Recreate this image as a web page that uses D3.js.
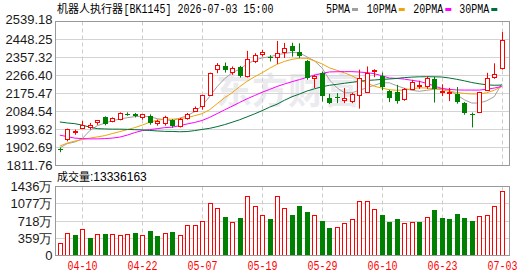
<!DOCTYPE html>
<html>
<head>
<meta charset="utf-8">
<script src="https://cdn.jsdelivr.net/npm/d3@7"></script>
<style>
  body { margin: 0; background: #fff; }
  svg { display: block; }
</style>
</head>
<body>
<div id="chart"></div>
<script>
// ---- data ----
const dates = ["04-07","04-08","04-09","04-10","04-13","04-14","04-15","04-16","04-17","04-20",
  "04-21","04-22","04-23","04-24","04-27","04-28","04-29","04-30","05-06","05-07",
  "05-08","05-11","05-12","05-13","05-14","05-15","05-18","05-19","05-20","05-21",
  "05-22","05-25","05-26","05-27","05-28","05-29","06-01","06-02","06-03","06-04",
  "06-05","06-08","06-09","06-10","06-11","06-12","06-15","06-16","06-17","06-18",
  "06-22","06-23","06-24","06-25","06-26","06-29","06-30","07-01","07-02","07-03"];

const opens = [1895,1939,1981,1999,2001,2031,2055,2037,2043,2074,
  2072,2055,2063,2022,2022,2040,2006,2047,2085,2107,
  2169,2295,2315,2281,2307,2261,2334,2373,2359,2359,
  2384,2416,2387,2340,2250,2278,2153,2158,2144,2132,
  2169,2183,2285,2265,2186,2181,2150,2198,2215,2208,
  2248,2181,2179,2173,2127,2070,2077,2193,2256,2301];
const highs = [1902,1998,1993,2037,2027,2040,2060,2055,2080,2080,
  2077,2072,2070,2043,2063,2046,2052,2077,2110,2169,
  2281,2329,2332,2312,2315,2391,2379,2396,2369,2441,
  2431,2432,2429,2345,2270,2286,2174,2178,2203,2178,
  2296,2312,2298,2281,2194,2219,2203,2245,2240,2262,
  2261,2222,2204,2208,2132,2079,2184,2280,2328,2486];
const lows = [1879,1934,1967,1996,1993,2017,2015,2030,2040,2063,
  2055,2043,2018,2013,2013,2003,2004,2043,2085,2094,
  2166,2278,2281,2270,2256,2256,2329,2362,2337,2325,
  2355,2362,2354,2245,2203,2135,2122,2127,2127,2127,
  2099,2178,2258,2191,2132,2124,2139,2193,2199,2199,
  2130,2162,2137,2124,2068,2004,2077,2188,2250,2296];
const closes = [1889,1992,1984,2013,2013,2039,2018,2050,2072,2071,
  2062,2069,2027,2032,2052,2008,2043,2067,2099,2164,
  2278,2315,2295,2300,2261,2349,2365,2384,2352,2379,
  2404,2392,2367,2253,2262,2161,2130,2153,2152,2169,
  2253,2278,2290,2211,2150,2136,2198,2233,2218,2250,
  2198,2184,2182,2135,2079,2067,2179,2253,2273,2444];

const ma5 = [1900.8,1922.4,1930.0,1947.6,1987.9,2013.0,2025.6,2038.2,2045.8,2053.3,
  2058.4,2060.9,2058.4,2048.3,2043.3,2038.2,2050.8,2063.4,2083.5,2113.7,
  2160.0,2210.0,2250.0,2280.0,2298.0,2325.0,2342.8,2355.4,2360.5,2370.5,
  2378.1,2383.1,2380.6,2360.5,2340.3,2305.1,2244.7,2204.4,2179.2,2179.2,
  2191.8,2204.4,2217.0,2229.5,2229.5,2214.4,2201.9,2191.8,2186.7,2191.8,
  2196.8,2201.9,2191.8,2169.1,2144.0,2127.3,2127.3,2138.9,2159.1,2224.5];
const ma10 = [1909.8,1924.9,1935.0,1942.6,1950.1,1956.1,1962.7,1972.8,1982.8,1992.9,
  2003.0,2015.6,2030.7,2040.7,2045.8,2045.8,2048.3,2053.3,2063.4,2073.5,
  2093.6,2123.8,2154.0,2179.2,2209.4,2237.1,2259.8,2279.9,2302.6,2322.7,
  2337.8,2347.9,2353.9,2352.9,2340.3,2325.2,2305.1,2292.5,2279.9,2264.8,
  2244.7,2229.5,2211.9,2202.9,2194.3,2191.8,2192.8,2199.3,2204.4,2202.9,
  2199.3,2194.3,2186.7,2180.7,2175.7,2173.2,2173.2,2179.2,2191.8,2210.9];
const ma20 = [1965.2,1957.7,1950.1,1947.6,1946.1,1946.1,1947.6,1950.1,1955.1,1965.2,
  1977.8,1987.9,1992.9,1997.9,2003.0,2005.5,2013.0,2021.6,2029.2,2039.2,
  2054.8,2073.5,2092.6,2111.2,2130.4,2148.5,2165.1,2181.7,2195.8,2210.9,
  2223.5,2235.1,2245.7,2257.2,2268.3,2276.9,2284.4,2285.4,2285.9,2285.9,
  2283.9,2280.9,2275.4,2265.3,2253.7,2251.7,2248.2,2242.1,2236.6,2226.5,
  2213.9,2200.8,2196.3,2193.3,2192.8,2192.8,2192.8,2196.8,2202.9,2210.9];
const ma30 = [2031.7,2026.6,2023.1,2015.6,2005.5,1997.9,1996.4,1995.4,1995.4,1994.4,
  1992.9,1991.4,1988.9,1986.4,1984.3,1983.8,1982.3,1983.3,1987.9,1993.9,
  1999.4,2008.0,2018.1,2030.2,2042.7,2057.4,2072.5,2088.6,2106.2,2121.3,
  2141.4,2159.1,2172.7,2187.8,2199.3,2209.4,2217.0,2222.0,2227.0,2232.1,
  2237.1,2241.6,2243.7,2246.7,2248.7,2251.7,2255.7,2258.2,2259.8,2260.3,
  2259.8,2258.8,2253.7,2247.2,2239.6,2231.1,2224.5,2219.5,2217.0,2218.0];

// volume in 万, and whether the bar is drawn as an "up" (red hollow) bar
const volumes = [254,462,427,531,370,447,447,427,420,447,
  474,406,510,406,462,495,406,628,628,712,
  1086,982,795,697,774,1238,1024,837,753,1238,
  982,843,1030,899,837,718,572,587,670,753,
  1128,1128,961,843,697,760,670,697,697,795,
  947,780,760,864,780,718,816,837,1024,1334];
const volUp = [1,1,0,1,0,1,0,1,1,1,
  0,1,0,0,1,0,1,1,1,1,
  1,1,0,1,0,1,1,1,0,1,
  1,0,0,0,1,0,0,1,1,1,
  1,1,1,0,0,0,1,1,0,1,
  0,0,0,0,0,0,1,1,1,1];

const priceTicks = [1811.76,1902.69,1993.62,2084.54,2175.47,2266.40,2357.32,2448.25,2539.18];
const volTicks = [0,359,718,1077,1436];
const dateTicks = ["04-10","04-22","05-07","05-19","05-29","06-10","06-23","07-03"];

const maSeries = [
  { name: "5PMA",  values: ma5,  color: "#a0a0a0" },
  { name: "10PMA", values: ma10, color: "#f0a30a" },
  { name: "20PMA", values: ma20, color: "#ff00ff" },
  { name: "30PMA", values: ma30, color: "#006f36" }
];

const RED = "#ff0000", GREEN = "#008000";
const W = 530, H = 276;
const left = 55.5, right = 509.5;
const pTop = 21.5, pBot = 165.5, vTop = 186.5, vBot = 255.5;
const crisp = v => Math.round(v - 0.5) + 0.5;

const svg = d3.select("#chart").append("svg")
  .attr("width", W).attr("height", H);

const x = d3.scalePoint().domain(dates).range([59.8, 501.7]);
const cx = d => Math.round(x(d)) + 0.5;
const yP = d3.scaleLinear().domain([1811.76, 2539.18]).range([pBot, pTop]);
const yV = d3.scaleLinear().domain([0, 1436]).range([vBot, vTop]);

// watermark
svg.append("text")
  .attr("x", 216).attr("y", 104)
  .attr("font-family", "Noto Sans CJK SC")
  .attr("font-weight", "bold")
  .attr("font-size", 36)
  .attr("fill", "#ebebef")
  .text("东方财富");

// grids
const grid = svg.append("g");
grid.selectAll("line.hp").data(priceTicks.slice(1, -1)).join("line")
  .attr("x1", left).attr("x2", right)
  .attr("y1", d => crisp(yP(d))).attr("y2", d => crisp(yP(d)))
  .attr("stroke", "#d4d4d4");
grid.selectAll("line.hv").data(volTicks.slice(1, -1)).join("line")
  .attr("class", "hv")
  .attr("x1", left).attr("x2", right)
  .attr("y1", d => crisp(yV(d))).attr("y2", d => crisp(yV(d)))
  .attr("stroke", "#d4d4d4");
[[pTop, pBot], [vTop, vBot]].forEach(([t, b]) => {
  grid.append("g").selectAll("line").data(dateTicks).join("line")
    .attr("x1", cx).attr("x2", cx).attr("y1", t).attr("y2", b)
    .attr("stroke", "#cccccc").attr("stroke-dasharray", "4,3");
});

// MA lines
const plot = svg.append("g");
maSeries.forEach(s => {
  plot.append("path")
    .datum(s.values)
    .attr("fill", "none")
    .attr("stroke", s.color)
    .attr("stroke-width", 1)
    .attr("d", d3.line().x((v, i) => x(dates[i])).y(v => yP(v)));
});

// candles
const candles = dates.map((d, i) => ({ d, o: opens[i], h: highs[i], l: lows[i], c: closes[i] }));
const cg = plot.selectAll("g.candle").data(candles).join("g");
cg.append("line")
  .attr("x1", d => cx(d.d)).attr("x2", d => cx(d.d))
  .attr("y1", d => yP(d.h)).attr("y2", d => yP(d.l))
  .attr("stroke", d => d.c >= d.o ? RED : GREEN);
cg.each(function(d) {
  const g = d3.select(this);
  const top = yP(Math.max(d.o, d.c)), bot = yP(Math.min(d.o, d.c));
  if (d.c >= d.o) {
    g.append("rect")
      .attr("x", cx(d.d) - 2).attr("width", 4)
      .attr("y", crisp(top)).attr("height", Math.max(1, Math.round(bot - top)))
      .attr("fill", "#fff").attr("stroke", RED);
  } else {
    g.append("rect")
      .attr("x", cx(d.d) - 2.5).attr("width", 5)
      .attr("y", Math.round(top)).attr("height", Math.max(1, Math.round(bot - top)))
      .attr("fill", GREEN);
  }
});

// volume bars
const vols = dates.map((d, i) => ({ d, v: volumes[i], up: volUp[i] }));
svg.append("g").selectAll("rect").data(vols).join("rect")
  .attr("x", d => d.up ? cx(d.d) - 2 : cx(d.d) - 2.5)
  .attr("width", d => d.up ? 4 : 5)
  .attr("y", d => d.up ? crisp(yV(d.v)) : Math.round(yV(d.v)))
  .attr("height", d => Math.round(vBot - yV(d.v)))
  .attr("fill", d => d.up ? "#fff" : GREEN)
  .attr("stroke", d => d.up ? RED : "none");

// frames
[[pTop, pBot], [vTop, vBot]].forEach(([t, b]) => {
  svg.append("rect")
    .attr("x", left).attr("y", t).attr("width", right - left).attr("height", b - t)
    .attr("fill", "none").attr("stroke", "#999");
});

// axes
const axisFont = "'Liberation Sans', Arial, sans-serif";
const yAxisP = svg.append("g")
  .attr("transform", `translate(${left},0)`)
  .call(d3.axisLeft(yP).tickValues(priceTicks).tickSize(0).tickPadding(3).tickFormat(d3.format(".2f")));
const yAxisV = svg.append("g")
  .attr("transform", `translate(${left},0)`)
  .call(d3.axisLeft(yV).tickValues(volTicks).tickSize(0).tickPadding(3).tickFormat(d => d === 0 ? "0" : d + "万"));
[yAxisP, yAxisV].forEach(a => {
  a.select(".domain").remove();
  a.selectAll("text").attr("font-family", axisFont).attr("font-size", 13).attr("fill", "#1a1a1a");
});
yAxisP.selectAll(".tick").filter(d => d === 2539.18).select("text").attr("dy", "0.16em");

const xAxis = svg.append("g")
  .attr("transform", `translate(0,${vBot})`)
  .call(d3.axisBottom(x).tickValues(dateTicks).tickSize(0).tickPadding(6));
xAxis.select(".domain").remove();
xAxis.selectAll(".tick").attr("transform", d => `translate(${cx(d)},0)`);
xAxis.selectAll("text")
  .attr("font-family", "'Liberation Mono', monospace").attr("font-size", 12)
  .attr("fill", RED)
  .attr("textLength", 30).attr("lengthAdjust", "spacingAndGlyphs");

// header
const head = svg.append("text").attr("y", 13).attr("fill", "#000");
head.append("tspan").attr("x", 57)
  .attr("font-family", "'Noto Sans CJK SC'").attr("font-size", 11)
  .text("机器人执行器");
svg.append("text").attr("x", 123.5).attr("y", 13)
  .attr("font-family", "'Liberation Mono', monospace").attr("font-size", 12)
  .attr("textLength", 150).attr("lengthAdjust", "spacingAndGlyphs")
  .text("[BK1145] 2026-07-03 15:00");

const legendX = [326, 366.7, 413.3, 459.3];
maSeries.forEach((s, i) => {
  const w = s.name.length * 6;
  svg.append("text").attr("x", legendX[i]).attr("y", 13)
    .attr("font-family", "'Liberation Mono', monospace").attr("font-size", 12)
    .attr("textLength", w).attr("lengthAdjust", "spacingAndGlyphs")
    .text(s.name);
  svg.append("rect").attr("x", legendX[i] + w + 2).attr("y", 8)
    .attr("width", 6).attr("height", 3).attr("fill", s.color);
});

// volume caption
const cap = svg.append("text").attr("x", 57).attr("y", 181);
cap.append("tspan").attr("font-family", "'Noto Sans CJK SC'").attr("font-size", 11).text("成交量");
cap.append("tspan").attr("font-family", axisFont).attr("font-size", 12).text(":13336163");
</script>
</body>
</html>
